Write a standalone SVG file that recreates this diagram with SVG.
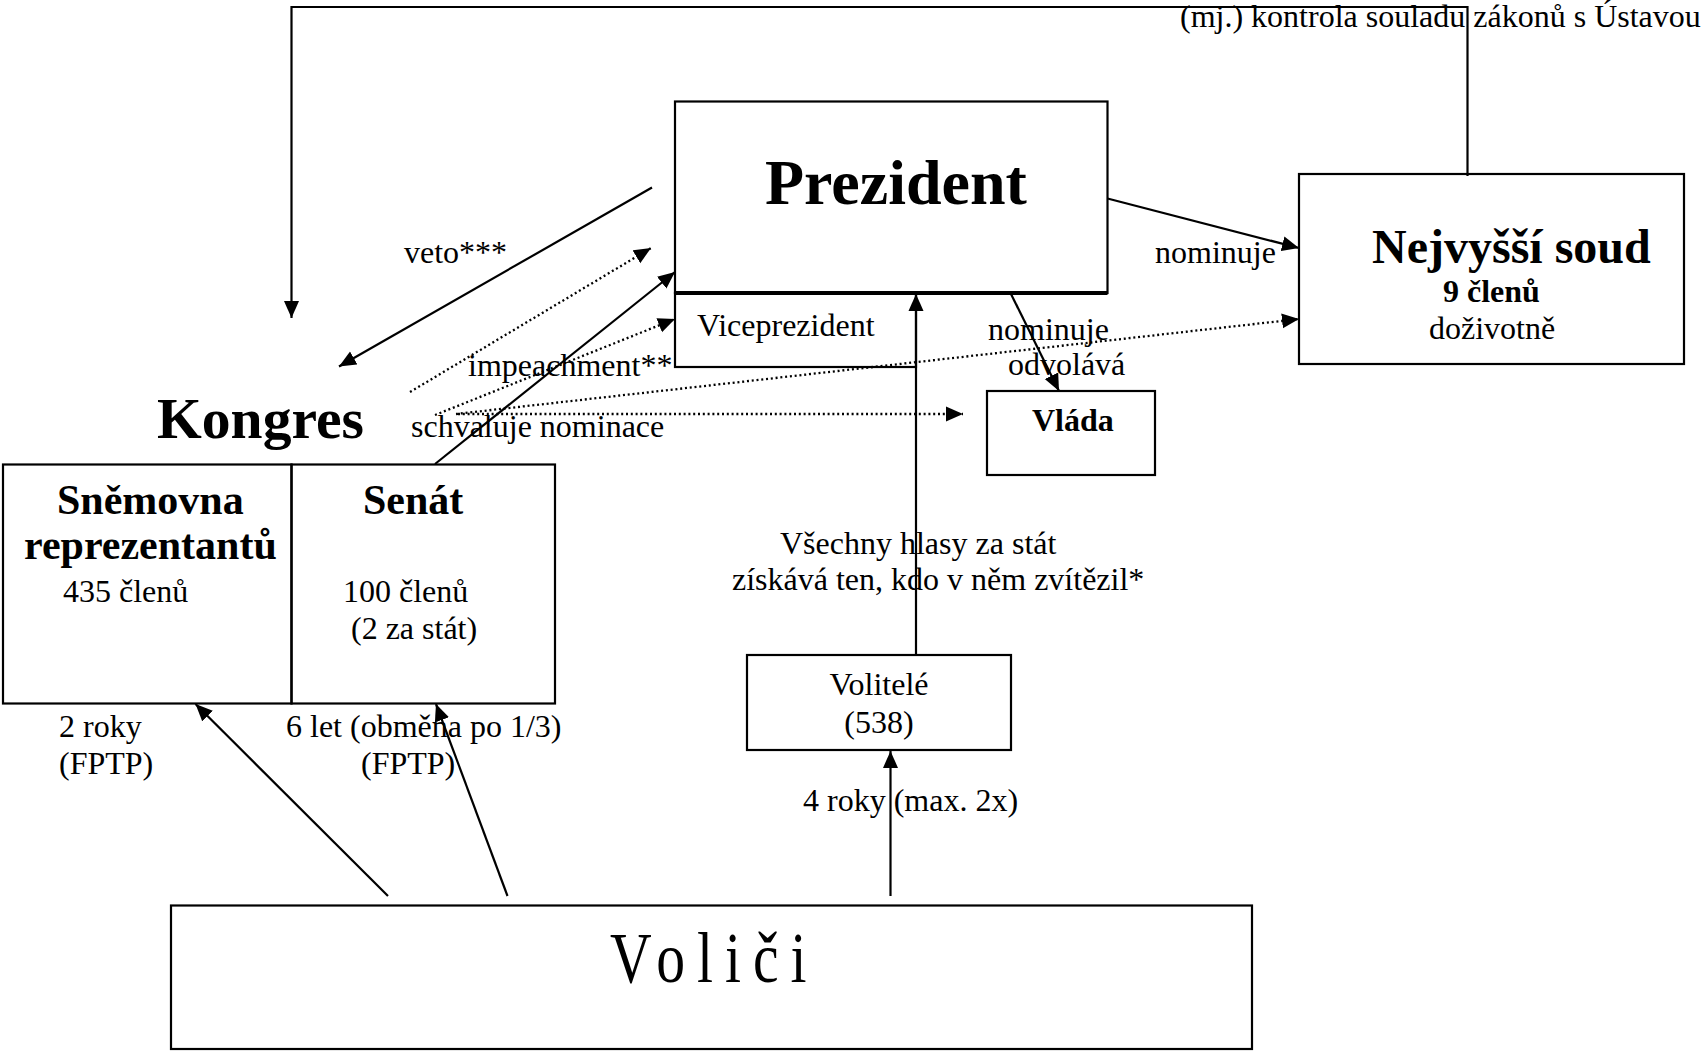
<svg xmlns="http://www.w3.org/2000/svg" width="1702" height="1051" viewBox="0 0 1702 1051">
<defs>
<style>
text{font-family:"Liberation Serif","Times New Roman",serif;fill:#000;font-size:32px}
.b{font-weight:bold}
.s42{font-size:42px}
.s48{font-size:48px}
.s58{font-size:57.6px}
.s64{font-size:64px}
.s72{font-size:72px;letter-spacing:15px}
.box{fill:none;stroke:#000;stroke-width:2.2}
.ln{fill:none;stroke:#000;stroke-width:2.2}
.dt{fill:none;stroke:#000;stroke-width:2.3;stroke-dasharray:2 2.8}
.c{text-anchor:middle}
</style>
<marker id="ah" markerUnits="userSpaceOnUse" markerWidth="19" markerHeight="16" refX="17" refY="7.5" orient="auto" viewBox="0 0 19 15">
<path d="M0,0 L17,7.5 L0,15 z" fill="#000"/>
</marker>
</defs>
<rect width="1702" height="1051" fill="#fff"/>

<g id="connectors">
<polyline class="ln" points="1467.5,176 1467.5,7 291.5,7 291.5,318" marker-end="url(#ah)"/>
<line class="ln" x1="652" y1="187.5" x2="339" y2="366.5" stroke-width="2.6" marker-end="url(#ah)"/>
<line class="dt" x1="410" y1="392" x2="651" y2="248" marker-end="url(#ah)"/>
<line class="ln" x1="435" y1="464" x2="675" y2="272" marker-end="url(#ah)"/>
<line class="dt" x1="435" y1="415" x2="675" y2="319" marker-end="url(#ah)"/>
<line class="dt" x1="456" y1="414" x2="1299" y2="319" marker-end="url(#ah)"/>
<line class="dt" x1="458" y1="414" x2="963" y2="414" marker-end="url(#ah)"/>
<line class="ln" x1="1107.5" y1="198.5" x2="1299" y2="248" stroke-width="3" marker-end="url(#ah)"/>
<line class="ln" x1="1011" y1="294" x2="1059" y2="391" marker-end="url(#ah)"/>
<line class="ln" x1="916" y1="655" x2="916" y2="294" stroke-width="2.6" marker-end="url(#ah)"/>
<line class="ln" x1="890.5" y1="896" x2="890.5" y2="751" marker-end="url(#ah)"/>
<line class="ln" x1="388" y1="896" x2="195.5" y2="704" marker-end="url(#ah)"/>
<line class="ln" x1="507.5" y1="896" x2="436" y2="704" marker-end="url(#ah)"/>
</g>

<g id="connector-labels">
<text x="1180" y="27">(mj.) kontrola souladu zákonů s Ústavou</text>
<text x="404" y="263">veto***</text>
<text x="468" y="376">impeachment**</text>
<text x="411" y="437">schvaluje nominace</text>
<text x="1155" y="263">nominuje</text>
<text x="988" y="340">nominuje</text>
<text x="1008" y="375">odvolává</text>
<text x="780" y="554">Všechny hlasy za stát</text>
<text x="732" y="590">získává ten, kdo v něm zvítězil*</text>
<text x="803" y="811">4 roky (max. 2x)</text>
<text x="59" y="737">2 roky</text>
<text x="59" y="774">(FPTP)</text>
<text x="286" y="737">6 let (obměna po 1/3)</text>
<text x="361" y="774">(FPTP)</text>
</g>

<g id="prezident">
<rect class="box" x="675" y="101.5" width="432.5" height="191.5"/>
<line x1="675" y1="293" x2="1107.5" y2="293" stroke="#000" stroke-width="4"/>
<text class="b s64" x="765" y="204">Prezident</text>
</g>

<g id="viceprezident">
<rect class="box" x="675" y="293" width="241" height="74"/>
<text x="697" y="336">Viceprezident</text>
</g>

<g id="nejvyssi-soud">
<rect class="box" x="1299" y="174" width="385" height="190"/>
<text class="b s48" x="1372" y="263">Nejvyšší soud</text>
<text class="b" x="1443" y="302">9 členů</text>
<text x="1429" y="339">doživotně</text>
</g>

<g id="vlada">
<rect class="box" x="987" y="391" width="168" height="84"/>
<text class="b" x="1032" y="431">Vláda</text>
</g>

<g id="kongres">
<text class="b s58" x="157" y="438">Kongres</text>
</g>

<g id="snemovna">
<rect class="box" x="3" y="464.5" width="288.5" height="239"/>
<text class="b s42" x="57" y="514">Sněmovna</text>
<text class="b s42" x="24" y="559">reprezentantů</text>
<text x="63" y="602">435 členů</text>
</g>

<g id="senat">
<rect class="box" x="291.5" y="464.5" width="263.5" height="239"/>
<text class="b s42" x="363" y="514">Senát</text>
<text x="343" y="602">100 členů</text>
<text x="351" y="639">(2 za stát)</text>
</g>

<g id="volitele">
<rect class="box" x="747" y="655" width="264" height="95"/>
<text class="c" x="879" y="695">Volitelé</text>
<text class="c" x="879" y="733">(538)</text>
</g>

<g id="volici">
<rect class="box" x="171" y="905.5" width="1081" height="143.5"/>
<text class="s72" transform="translate(610 982) scale(0.8 1)" x="0" y="0">Voliči</text>
</g>
</svg>
